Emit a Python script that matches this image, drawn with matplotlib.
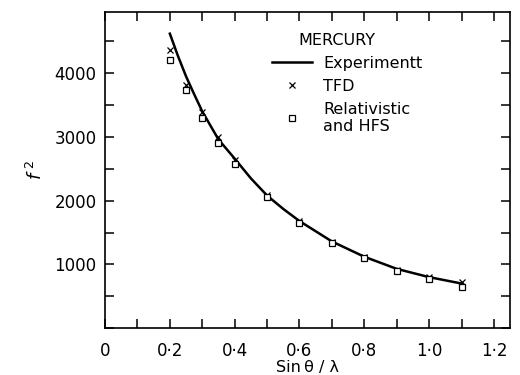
import matplotlib
matplotlib.use('Agg')
import matplotlib.pyplot as plt
from matplotlib.ticker import MultipleLocator, FuncFormatter

plt.rcParams['font.family'] = ['DejaVu Sans']

# experimental curve
curve_x = [0.2, 0.225, 0.25, 0.275, 0.3, 0.35, 0.4, 0.45, 0.5, 0.55, 0.6, 0.7, 0.8, 0.9, 1.0, 1.1]
curve_y = [4620, 4270, 3950, 3670, 3400, 2960, 2660, 2350, 2080, 1870, 1680, 1360, 1120, 930, 800, 700]

# TFD (crosses)
tfd_x = [0.2, 0.25, 0.3, 0.35, 0.4, 0.5, 0.6, 0.7, 0.8, 0.9, 1.0, 1.1]
tfd_y = [4370, 3820, 3390, 3000, 2640, 2090, 1680, 1350, 1110, 910, 800, 730]

# relativistic and HFS (squares)
hfs_x = [0.2, 0.25, 0.3, 0.35, 0.4, 0.5, 0.6, 0.7, 0.8, 0.9, 1.0, 1.1]
hfs_y = [4210, 3740, 3300, 2900, 2580, 2060, 1650, 1340, 1100, 900, 770, 650]


def x_fmt(v, pos):
    if abs(v / 0.2 - round(v / 0.2)) > 1e-6:
        return ''
    if abs(v) < 1e-9:
        return '0'
    return ('%.1f' % v).replace('.', '\u00b7')


def y_fmt(v, pos):
    if v % 1000 == 0 and v > 0:
        return '%d' % v
    return ''


fig = plt.figure(figsize=(5.2, 3.75), dpi=100)
ax = fig.add_axes([0.202, 0.125, 0.779, 0.843])

ax.plot(curve_x, curve_y, color='black', lw=1.8, label='Experimentt', zorder=2)
ax.plot(tfd_x, tfd_y, ls='none', marker='x', ms=4, mew=0.9, color='black', label='TFD', zorder=3)
ax.plot(hfs_x, hfs_y, ls='none', marker='s', ms=5, mew=0.9, mfc='white', mec='black',
        label='Relativistic\nand HFS', zorder=3)

ax.set_xlim(0, 1.25)
ax.set_ylim(0, 4960)
ax.xaxis.set_major_locator(MultipleLocator(0.1))
ax.xaxis.set_major_formatter(FuncFormatter(x_fmt))
ax.yaxis.set_major_locator(MultipleLocator(500))
ax.yaxis.set_major_formatter(FuncFormatter(y_fmt))
ax.tick_params(direction='in', length=6.5, width=1.1, top=True, right=True,
               labelsize=12)
ax.tick_params(axis='x', pad=10)
ax.tick_params(axis='y', pad=6)
for s in ax.spines.values():
    s.set_linewidth(1.2)

ax.set_xlabel('Sin\u2009\u03b8 / \u03bb', fontsize=11.5, labelpad=0)
ax.set_ylabel(r'$f^{\ 2}$', fontsize=13, labelpad=6)

ax.text(0.477, 0.896, 'MERCURY', transform=ax.transAxes, fontsize=11.5,
        ha='left', va='baseline')
ax.legend(loc='upper left', bbox_to_anchor=(0.412, 0.862), frameon=False,
          fontsize=11.5, borderpad=0, borderaxespad=0,
          handlelength=2.5, handletextpad=0.7, labelspacing=0.5)

fig.savefig('out.png', dpi=100)
